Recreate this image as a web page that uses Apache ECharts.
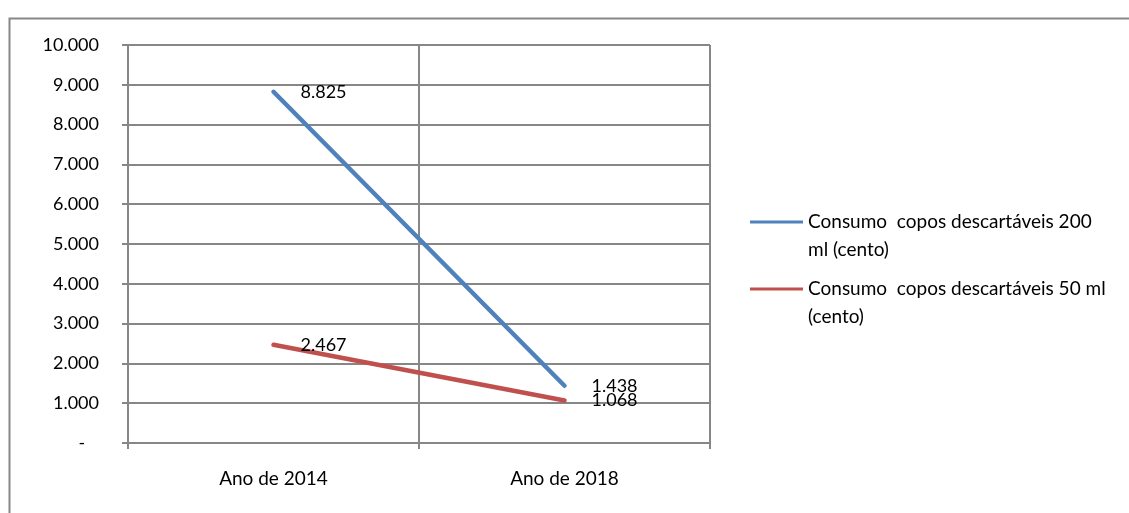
<!DOCTYPE html>
<html>
<head>
<meta charset="utf-8">
<script src="https://cdn.jsdelivr.net/npm/echarts@6/dist/echarts.min.js"></script>
<style>
  html, body { margin: 0; padding: 0; background: #fff; }
  #chart { width: 1129px; height: 513px; }
</style>
</head>
<body>
<div id="chart"></div>
<script>
// dados do gráfico
const categorias = ['Ano de 2014', 'Ano de 2018']
const nomes = [
  'Consumo  copos descartáveis 200 ml (cento)',
  'Consumo  copos descartáveis 50 ml (cento)'
]
const copos200 = [8825, 1438]
const copos50 = [2467, 1068]
const cores = ['#4F81BD', '#C0504D']

// legenda quebrada em duas linhas como no original
// (linha vazia no início para o ícone ficar alinhado com a 1a linha)
const legendaTexto = {
  [nomes[0]]: '\nConsumo  copos descartáveis 200\nml (cento)',
  [nomes[1]]: '\nConsumo  copos descartáveis 50 ml\n(cento)'
}

function fmtNum(v) {
  if (v === 0) return '-   '
  return v.toString().replace(/\B(?=(\d{3})+(?!\d))/g, '.')
}

const fonte = 'Lato'
const cinza = '#878787'

function legenda(nome, top) {
  return {
    orient: 'vertical',
    left: 750,
    top: top,
    padding: 0,
    data: [nome],
    icon: 'rect',
    itemWidth: 53,
    itemHeight: 3,
    itemGap: 0,
    selectedMode: false,
    formatter: n => legendaTexto[n],
    textStyle: {
      fontFamily: fonte,
      fontSize: 19,
      color: '#000',
      lineHeight: 28
    }
  }
}

function serie(nome, dados, cor) {
  return {
    name: nome,
    type: 'line',
    data: dados,
    symbol: 'circle',
    symbolSize: 0.1,
    showSymbol: true,
    itemStyle: { color: cor },
    lineStyle: { color: cor, width: 4.5, cap: 'round' },
    label: {
      show: true,
      position: 'right',
      distance: 27,
      formatter: p => fmtNum(p.value),
      fontFamily: fonte,
      fontSize: 18,
      color: '#000'
    },
    emphasis: { disabled: true },
    animation: false
  }
}

const chart = echarts.init(document.getElementById('chart'))
chart.setOption({
  backgroundColor: '#fff',
  animation: false,
  graphic: [{
    type: 'rect',
    left: 7,
    top: 16,
    shape: { width: 1200, height: 600 },
    style: { fill: 'none', stroke: cinza, lineWidth: 2 },
    silent: true
  }],
  legend: [
    legenda(nomes[0], 180),
    legenda(nomes[1], 247)
  ],
  grid: { left: 128, right: 419, top: 45, bottom: 70 },
  xAxis: {
    type: 'category',
    data: categorias,
    boundaryGap: true,
    axisLine: { lineStyle: { color: cinza, width: 2 } },
    axisTick: { show: true, length: 6, lineStyle: { color: cinza, width: 2 } },
    splitLine: { show: true, lineStyle: { color: cinza, width: 2 } },
    axisLabel: { fontFamily: fonte, fontSize: 19, color: '#000', margin: 26 }
  },
  yAxis: {
    type: 'value',
    min: 0,
    max: 10000,
    interval: 1000,
    axisLine: { show: true, lineStyle: { color: cinza, width: 2 } },
    axisTick: { show: true, length: 6, lineStyle: { color: cinza, width: 2 } },
    splitLine: { show: true, lineStyle: { color: cinza, width: 2 } },
    axisLabel: {
      fontFamily: fonte, fontSize: 18, color: '#000', margin: 29,
      formatter: v => fmtNum(v)
    }
  },
  series: [
    serie(nomes[0], copos200, cores[0]),
    serie(nomes[1], copos50, cores[1])
  ]
})
</script>
</body>
</html>
